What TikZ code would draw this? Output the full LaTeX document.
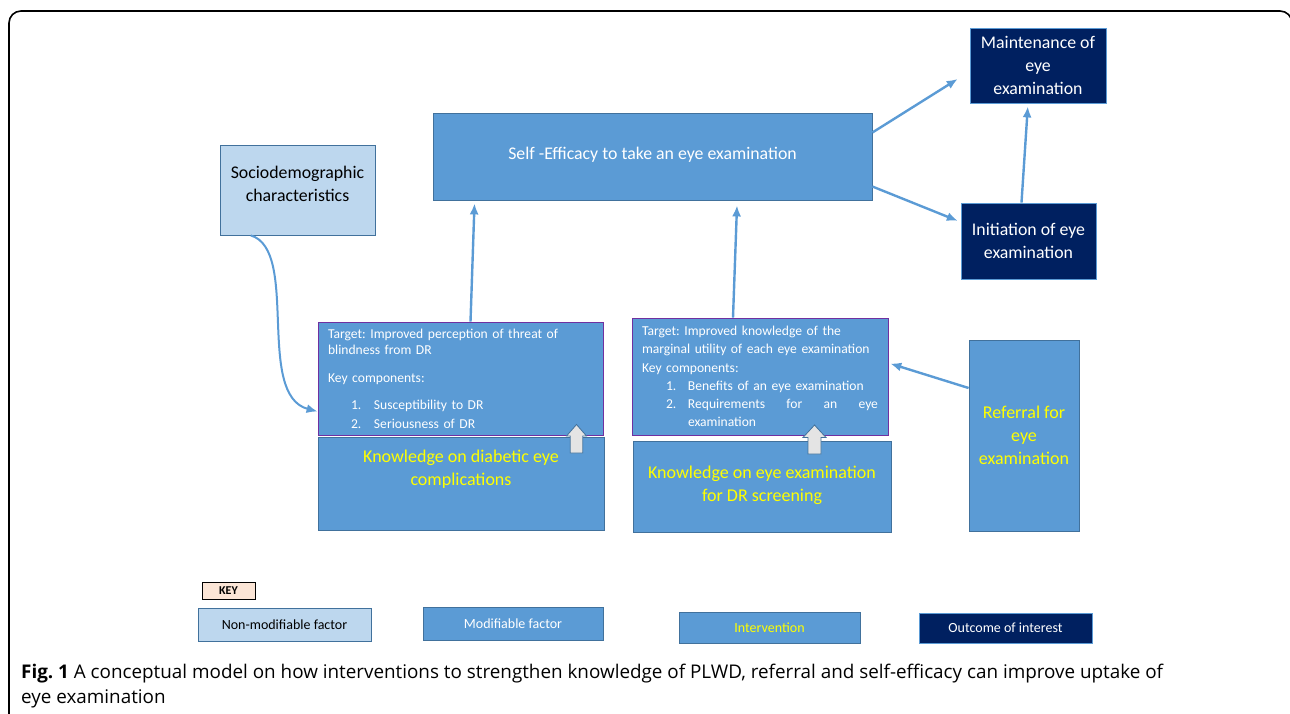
\documentclass[tikz,border=0pt]{standalone}
\usepackage{fontspec}
\setmainfont{Carlito}
\newfontfamily\capfont{Open Sans}
\usepackage{tikz}
\usetikzlibrary{arrows.meta, positioning, calc}
\definecolor{modblue}{HTML}{5B9BD5}
\definecolor{edgeblue}{HTML}{41719C}
\definecolor{nonmodblue}{HTML}{BDD7EE}
\definecolor{navy}{HTML}{002060}
\definecolor{ivyellow}{HTML}{FFFF00}
\definecolor{tgtpurple}{HTML}{7030A0}
\definecolor{keypeach}{HTML}{FBE5D6}
\definecolor{blockgray}{HTML}{E4E4E4}
\frenchspacing

\begin{document}
\begin{tikzpicture}[x=1pt, y=-1pt,
    modif/.style={rectangle, draw=edgeblue, fill=modblue, line width=0.8pt, text=white, align=center, inner sep=0pt, font=\fontsize{17.8}{23}\selectfont},
    nonmod/.style={modif, fill=nonmodblue, text=black},
    interv/.style={modif, text=ivyellow, font=\fontsize{18}{23}\selectfont},
    outcome/.style={modif, fill=navy, draw=modblue},
    target/.style={modif, draw=tgtpurple, align=left, inner xsep=10pt, font=\fontsize{13.6}{18.3}\selectfont},
    keybox/.style={modif, font=\fontsize{14}{16}\selectfont},
    conn/.style={draw=modblue, line width=2.4pt, -{Latex[length=11pt, width=9pt]}},
    blockup/.style={fill=blockgray, draw=edgeblue, line width=0.8pt, line join=miter}]
  \useasboundingbox (0,0) rectangle (1290,713);
  \clip (0,0) rectangle (1290,713);
  \draw[line width=1.6pt, rounded corners=12pt] (9,730) -- (9,11) -- (1292,11) -- (1292,730);

  \node[modif, minimum width=439pt, minimum height=87pt] (eff) at (652.5,156.5) {Self -Efficacy to take an eye examination\\[-17pt]\mbox{}};
  \node[nonmod, minimum width=155pt, minimum height=90pt] (socio) at (297.5,190) {Sociodemographic\\characteristics\\[-10pt]\mbox{}};
  \node[outcome, minimum width=136pt, minimum height=75pt] (maint) at (1038,65.5) {Maintenance of\\eye\\examination};
  \node[outcome, minimum width=135pt, minimum height=76pt] (init) at (1028.5,241) {Initiation of eye\\examination};

  \node[target, text width=265pt, minimum width=285pt, minimum height=113pt] (tgtA) at (460.5,378.5)
    {Target: Improved perception of threat of\\[-2pt]blindness from DR\\[10pt]
     Key components:\\[9pt]
     \hspace*{23pt}\makebox[23pt][l]{1.}Susceptibility to DR\\
     \hspace*{23pt}\makebox[23pt][l]{2.}Seriousness of DR};
  \node[interv, minimum width=286pt, minimum height=93pt] (knowA) at (461,483.5) {Knowledge on diabetic eye\\complications\\[8pt]\mbox{}};

  \node[target, text width=236pt, minimum width=256pt, minimum height=117pt] (tgtB) at (760,376.5)
    {Target: Improved knowledge of the\\marginal utility of each eye examination\\
     Key components:\\
     \hspace*{24pt}\makebox[22pt][l]{1.}Benefits of an eye examination\\
     \hspace*{24pt}\makebox[22pt][l]{2.}\makebox[190pt][l]{Requirements\hfill for\hfill an\hfill eye}\\
     \hspace*{46pt}examination};
  \node[interv, minimum width=258pt, minimum height=91pt] (knowB) at (762,486.5) {Knowledge on eye examination\\for DR screening\\[-17pt]\mbox{}};
  \node[interv, minimum width=110pt, minimum height=191pt] (ref) at (1024,435.5) {Referral for\\eye\\examination};

  \draw[blockup] (570.2,453) -- (570.2,436) -- (566.5,436) -- (576.5,424.5) -- (586.5,436) -- (582.8,436) -- (582.8,453) -- cycle;
  \draw[blockup] (808,454) -- (808,437.5) -- (803,437.5) -- (814.5,425) -- (826,437.5) -- (821,437.5) -- (821,454) -- cycle;

  \draw[conn] ([xshift=10pt]tgtA.north) -- ([xshift=-178pt, yshift=-3pt]eff.south);
  \draw[conn] ([xshift=-27pt]tgtB.north) -- ([xshift=84.5pt, yshift=-5pt]eff.south);
  \draw[conn, shorten >=14pt] ([yshift=24pt]eff.east) -- ([yshift=-6pt]maint.west);
  \draw[conn, shorten >=3pt] ([yshift=-30pt]eff.east) -- ([yshift=19pt]init.west);
  \draw[conn, shorten >=3pt] ([xshift=-7pt]init.north) -- ([xshift=-10pt]maint.south);
  \draw[conn, shorten >=2pt] ([yshift=47.5pt]ref.west) -- ([yshift=13.5pt]tgtB.east);
  \draw[conn, line width=2pt] ($(socio.south west)!0.2!(socio.south east)$) .. controls (300,250) and (255,395) .. ([yshift=-33pt]tgtA.west);

  \node[keybox, fill=keypeach, draw=black, text=black, minimum width=53pt, minimum height=17pt, font=\fontsize{12}{13}\selectfont\bfseries] (kkey) at (228.5,590.5) {KEY};
  \node[keybox, fill=nonmodblue, text=black, minimum width=173pt, minimum height=33pt] (knon) at (284.5,624.5) {Non-modifiable factor};
  \node[keybox, minimum width=180pt, minimum height=33pt] (kmod) at (513,623.5) {Modifiable factor};
  \node[keybox, text=ivyellow, minimum width=181pt, minimum height=31pt] (kint) at (769.5,627.5) {Intervention};
  \node[keybox, fill=navy, draw=modblue, minimum width=173pt, minimum height=30pt] (kout) at (1005.5,628) {Outcome of interest};

  \node[anchor=north west, inner sep=0pt, align=left, font=\capfont\fontsize{18.85}{25}\selectfont] (cap) at (21,664)
    {\textbf{Fig. 1} A conceptual model on how interventions to strengthen knowledge of PLWD, referral and self-efficacy can improve uptake of\\eye examination};
\end{tikzpicture}
\end{document}
